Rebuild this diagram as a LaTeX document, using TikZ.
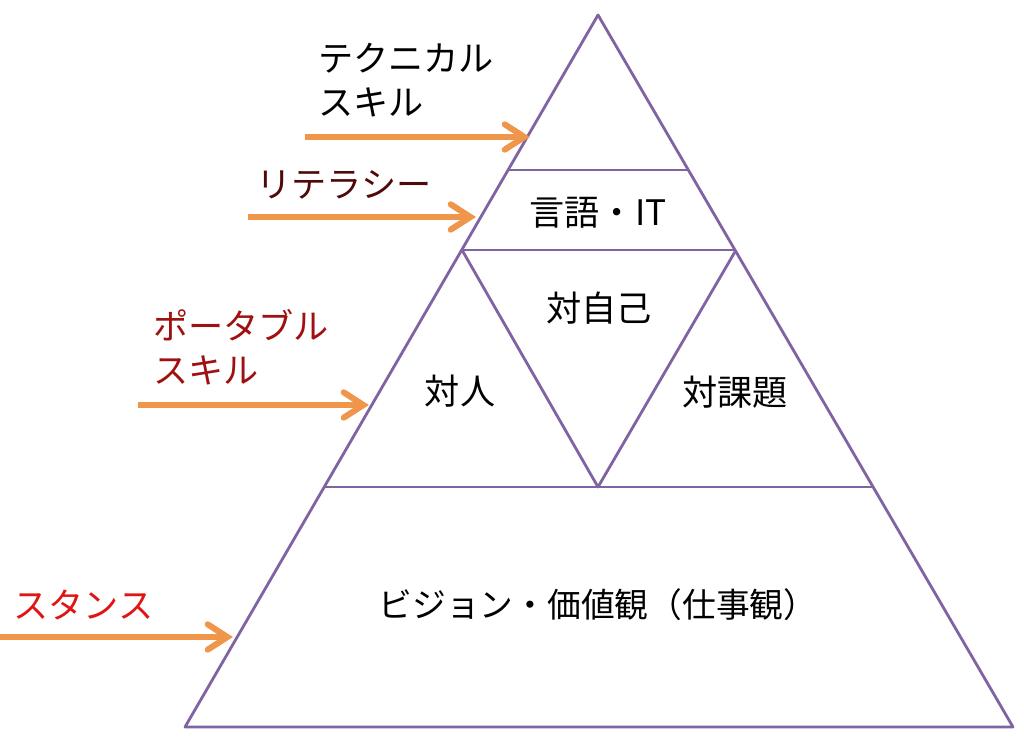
\documentclass[tikz,border=0pt]{standalone}
\usepackage{fontspec}
\setmainfont{Noto Sans CJK JP}
\usetikzlibrary{arrows.meta}
\definecolor{pyramid}{RGB}{128,100,162}
\definecolor{pointer}{RGB}{240,150,75}
\definecolor{maroon}{RGB}{80,8,8}
\definecolor{darkred}{RGB}{160,16,16}
\definecolor{brightred}{RGB}{225,20,20}
\tikzset{
	layer/.style={draw=pyramid,line width=2pt,line join=round},
	pointer/.style={draw=pointer,line width=4.3pt,-{Straight Barb[length=14pt,width=18pt,line cap=round]}},
	label/.style={inner sep=0pt,font=\fontsize{25}{31}\selectfont},
	tag/.style={label,align=left,anchor=west}
}
\begin{document}
\begin{tikzpicture}[x=0.025cm,y=-0.025cm]
	\useasboundingbox (0,0) rectangle (1024,742);
	% corners of the pyramid
	\coordinate (apex) at (598,15);
	\coordinate (bl) at (185,727);
	\coordinate (br) at (1013,727);
	\coordinate (t1l) at (508,170);
	\coordinate (t1r) at (688,170);
	\coordinate (t2l) at (462,250);
	\coordinate (t2r) at (736,250);
	\coordinate (t3l) at (325,487);
	\coordinate (t3r) at (874,487);
	\coordinate (mid) at (598,487);
	\draw[layer] (apex) -- (br) -- (bl) -- cycle;
	\draw[layer] (t1l) -- (t1r);
	\draw[layer] (t2l) -- (t2r);
	\draw[layer] (t3l) -- (t3r);
	\draw[layer] (t2l) -- (mid) -- (t2r);
	% labels inside
	\node[label] (lang) at (598,213) {言語・IT};
	\node[label] (self) at (599,308) {対自己};
	\node[label] (people) at (460,391) {対人};
	\node[label] (task) at (735,392) {対課題};
	\node[label,font=\fontsize{24}{31}\selectfont] (vision) at (598,605) {ビジョン・価値観（仕事観）};
	% labels outside
	\node[tag] (tech) at (318,80) {テクニカル\\スキル};
	\node[tag,text=maroon] (lit) at (256,185) {リテラシー};
	\node[tag,text=darkred] (port) at (153,347) {ポータブル\\スキル};
	\node[tag,text=brightred] (stance) at (13,605) {スタンス};
	% arrows
	\coordinate (a1) at (305,137);
	\coordinate (b1) at (530,137);
	\coordinate (a2) at (248,217);
	\coordinate (b2) at (476,217);
	\coordinate (a3) at (138,405);
	\coordinate (b3) at (369,405);
	\coordinate (a4) at (0,637);
	\coordinate (b4) at (233,637);
	\draw[pointer] (a1) -- (b1);
	\draw[pointer] (a2) -- (b2);
	\draw[pointer] (a3) -- (b3);
	\draw[pointer] (a4) -- (b4);
\end{tikzpicture}
\end{document}
